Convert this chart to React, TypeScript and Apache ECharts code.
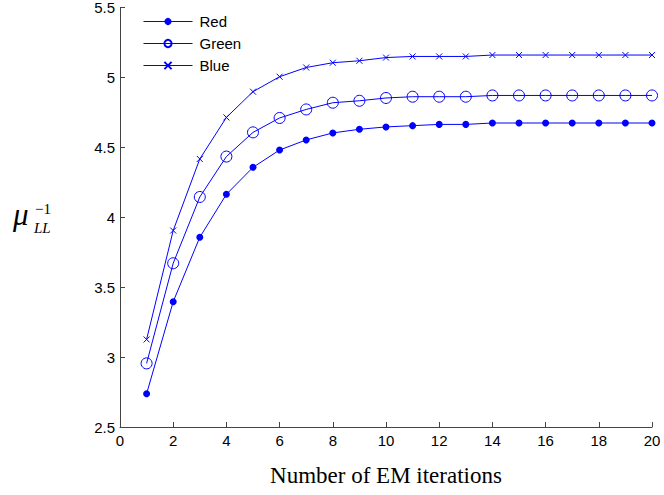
import React, { useEffect, useRef } from "react";
import * as echarts from "echarts";

const iterations = [1, 2, 3, 4, 5, 6, 7, 8, 9, 10, 11, 12, 13, 14, 15, 16, 17, 18, 19, 20];
const redValues = [2.738, 3.396, 3.857, 4.164, 4.357, 4.481, 4.553, 4.603, 4.629, 4.646, 4.655, 4.664, 4.664, 4.674, 4.674, 4.674, 4.674, 4.674, 4.674, 4.674];
const greenValues = [2.955, 3.671, 4.145, 4.434, 4.607, 4.71, 4.771, 4.819, 4.833, 4.853, 4.862, 4.862, 4.862, 4.871, 4.871, 4.871, 4.871, 4.871, 4.871, 4.871];
const blueValues = [3.126, 3.905, 4.417, 4.714, 4.898, 5.005, 5.071, 5.105, 5.119, 5.142, 5.15, 5.15, 5.15, 5.16, 5.16, 5.16, 5.16, 5.16, 5.16, 5.16];
const seriesNames = ["Red", "Green", "Blue"];
const xTitle = "Number of EM iterations";

const BLUE = "#0000ff";
const AXIS = "#444444";
const SANS = "'Liberation Sans', Arial, sans-serif";
const SERIF = "'Liberation Serif', 'Times New Roman', serif";

const pairs = (vals: number[]) => iterations.map((x, i) => [x, vals[i]]);

export default function App() {
  const ref = useRef<HTMLDivElement>(null);
  useEffect(() => {
    if (!ref.current) return;
    const chart = echarts.init(ref.current, null, { renderer: "svg" });
    chart.setOption({
      animation: false,
      backgroundColor: "#ffffff",
      grid: { left: 120, right: 12, top: 7, bottom: 68, containLabel: false },
      legend: {
        orient: "vertical",
        left: 138,
        top: 9,
        itemWidth: 49,
        itemHeight: 9,
        itemGap: 7,
        lineStyle: { width: 1 },
        textStyle: { fontSize: 15, fontFamily: SANS, color: "#000", padding: [0, 0, 0, 2] },
        data: seriesNames,
      },
      xAxis: {
        type: "value",
        min: 0,
        max: 20,
        interval: 2,
        axisLine: { show: true, lineStyle: { color: AXIS, width: 1 } },
        axisTick: { show: true, inside: true, length: 5, lineStyle: { color: AXIS } },
        axisLabel: { fontSize: 15, fontFamily: SANS, color: "#000", margin: 6 },
        splitLine: { show: false },
        name: xTitle,
        nameLocation: "middle",
        nameGap: 37,
        nameTextStyle: { fontSize: 23, fontFamily: SERIF, color: "#000" },
      },
      yAxis: {
        type: "value",
        min: 2.5,
        max: 5.5,
        interval: 0.5,
        axisLine: { show: true, lineStyle: { color: AXIS, width: 1 } },
        axisTick: { show: true, inside: true, length: 5, lineStyle: { color: AXIS } },
        axisLabel: { fontSize: 15, fontFamily: SANS, color: "#000", margin: 5 },
        splitLine: { show: false },
      },
      graphic: [
        {
          type: "group",
          left: 13,
          top: 199,
          children: [
            { type: "text", x: 0, y: 0, style: { text: "μ", font: `italic 31px ${SERIF}`, fill: "#000" } },
            { type: "text", x: 22, y: 2, style: { text: "−1", font: `15px ${SERIF}`, fill: "#000" } },
            { type: "text", x: 21, y: 21, style: { text: "LL", font: `italic 15px ${SERIF}`, fill: "#000" } },
          ],
        },
      ],
      series: [
        {
          name: seriesNames[0],
          type: "line",
          data: pairs(redValues),
          symbol: "circle",
          symbolSize: 7,
          lineStyle: { color: BLUE, width: 1 },
          itemStyle: { color: BLUE },
        },
        {
          name: seriesNames[1],
          type: "line",
          data: pairs(greenValues),
          symbol: "circle",
          symbolSize: 11,
          lineStyle: { color: BLUE, width: 1 },
          itemStyle: { color: "rgba(0,0,0,0)", borderColor: BLUE, borderWidth: 1 },
        },
        {
          name: seriesNames[2],
          type: "line",
          data: pairs(blueValues),
          symbol: "path://M0,0L10,10M10,0L0,10",
          symbolSize: 6,
          lineStyle: { color: BLUE, width: 1 },
          itemStyle: { color: BLUE, borderColor: BLUE, borderWidth: 1 },
        },
      ],
    });
    return () => chart.dispose();
  }, []);
  return <div ref={ref} style={{ width: 664, height: 495, position: "absolute", left: 0, top: 0 }} />;
}
